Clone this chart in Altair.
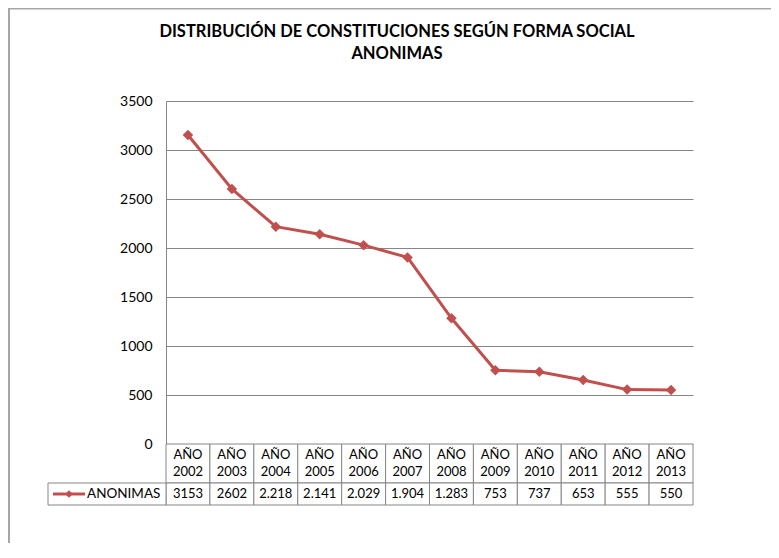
import altair as alt
import pandas as pd

# ---- data ----
years = ["2002", "2003", "2004", "2005", "2006", "2007",
         "2008", "2009", "2010", "2011", "2012", "2013"]
values = [3153, 2602, 2218, 2141, 2029, 1904, 1283, 753, 737, 653, 555, 550]
value_labels = ["3153", "2602", "2.218", "2.141", "2.029", "1.904",
                "1.283", "753", "737", "653", "555", "550"]
header_word = "AÑO"
series_name = "ANONIMAS"
y_ticks = [0, 500, 1000, 1500, 2000, 2500, 3000, 3500]
title_lines = ["DISTRIBUCIÓN DE CONSTITUCIONES SEGÚN FORMA SOCIAL", "ANONIMAS"]

RED = "#C0504D"
GRID = "#868686"
FRAME = "#A6A6A6"
FONT = "Lato"

W, H = 527, 343
ROW1, ROW2 = 39, 22

df = pd.DataFrame({"year": years, "value": values, "label": value_labels,
                   "head": [header_word] * len(years)})
one = pd.DataFrame({"name": [series_name]})

xs = alt.Scale(domain=years, type="band", paddingInner=0, paddingOuter=0)
X = alt.X("year:N", scale=xs, axis=None)
Y = alt.Y("value:Q",
          scale=alt.Scale(domain=[0, 3500], nice=False),
          axis=alt.Axis(values=y_ticks, grid=True, gridColor=GRID, gridWidth=1,
                        domainColor=GRID, domainWidth=1, ticks=False,
                        labelPadding=14, labelFont=FONT, labelFontSize=14,
                        labelColor="black", title=None, format="d"))

base = alt.Chart(df)

line = base.mark_line(color=RED, strokeWidth=3).encode(x=X, y=Y)
pts = base.mark_point(shape="diamond", filled=True, size=110, color=RED, opacity=1).encode(
    x=X, y=Y)

# data table under the plot
hdr_rect = base.mark_rect(fill="white", stroke=GRID, strokeWidth=1).encode(
    x=X, y=alt.value(H), y2=alt.value(H + ROW1))
val_rect = base.mark_rect(fill="white", stroke=GRID, strokeWidth=1).encode(
    x=X, y=alt.value(H + ROW1), y2=alt.value(H + ROW1 + ROW2))
txt_kw = dict(font=FONT, fontSize=13, baseline="middle", align="center", color="black")
hdr_txt1 = base.mark_text(**txt_kw).encode(x=X, y=alt.value(H + 11), text="head:N")
hdr_txt2 = base.mark_text(**txt_kw).encode(x=X, y=alt.value(H + 28), text="year:N")
val_txt = base.mark_text(**txt_kw).encode(x=X, y=alt.value(H + ROW1 + 11), text="label:N")

leg = alt.Chart(one)
leg_rect = leg.mark_rect(fill="white", stroke=GRID, strokeWidth=1).encode(
    x=alt.value(-118), x2=alt.value(0), y=alt.value(H + ROW1), y2=alt.value(H + ROW1 + ROW2))
leg_line = leg.mark_rule(color=RED, strokeWidth=3).encode(
    x=alt.value(-113), x2=alt.value(-81), y=alt.value(H + ROW1 + 11))
leg_pt = leg.mark_point(shape="diamond", filled=True, size=60, color=RED, opacity=1).encode(
    x=alt.value(-97), y=alt.value(H + ROW1 + 11))
leg_txt = leg.mark_text(font=FONT, fontSize=13.5, baseline="middle", align="left",
                        color="black").encode(
    x=alt.value(-79), y=alt.value(H + ROW1 + 11), text="name:N")

# chart frame (top and left edges visible)
frame_top = leg.mark_rule(color=FRAME, strokeWidth=2).encode(
    x=alt.value(-158), x2=alt.value(W + 78), y=alt.value(-92.5))
frame_left = leg.mark_rule(color=FRAME, strokeWidth=2).encode(
    x=alt.value(-157), y=alt.value(-93), y2=alt.value(H + 99))

# title (two lines)
ttl_kw = dict(font=FONT, fontSize=16.5, fontWeight="bold", align="center",
              baseline="alphabetic", color="black")
title1 = leg.mark_text(**ttl_kw).encode(
    x=alt.value(231), y=alt.value(-64), text=alt.value(title_lines[0]))
title2 = leg.mark_text(**ttl_kw).encode(
    x=alt.value(231), y=alt.value(-42), text=alt.value(title_lines[1]))

chart = alt.layer(
    frame_top, frame_left, title1, title2,
    hdr_rect, val_rect, hdr_txt1, hdr_txt2, val_txt,
    leg_rect, leg_line, leg_pt, leg_txt,
    line, pts,
).properties(
    width=W, height=H,
    autosize=alt.AutoSizeParams(type="none"),
    padding={"left": 158, "top": 93, "right": 78, "bottom": 99},
    background="white",
).configure_view(strokeWidth=0)

chart.save("out.html", embed_options={"renderer": "svg", "actions": False})
